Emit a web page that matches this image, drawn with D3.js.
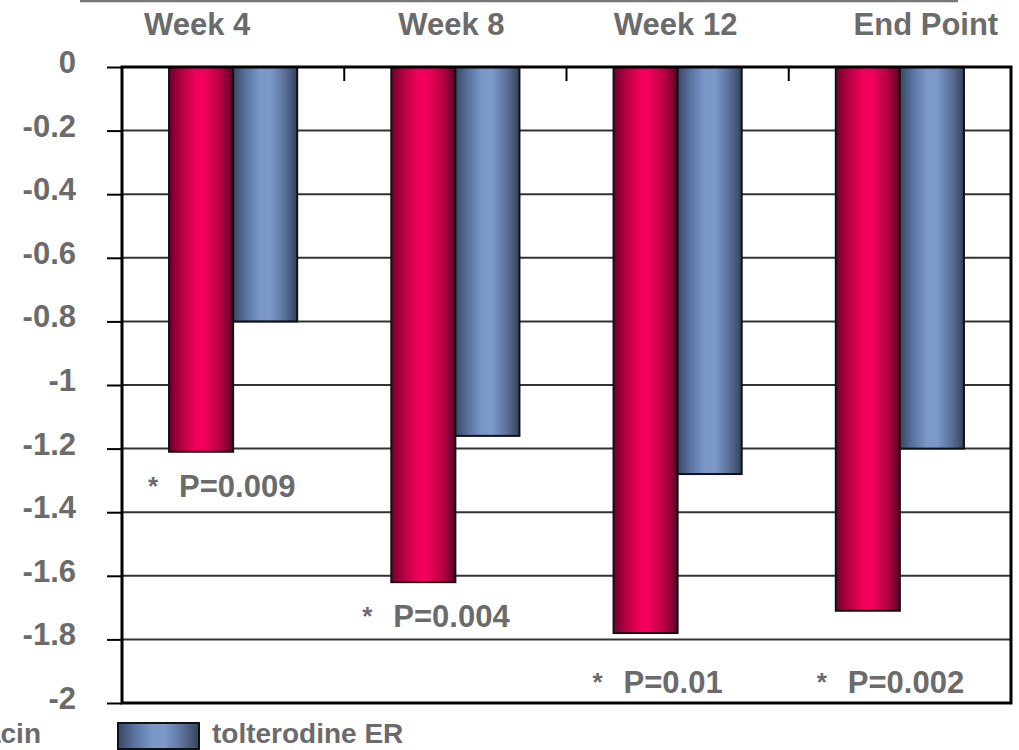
<!DOCTYPE html>
<html>
<head>
<meta charset="utf-8">
<script src="https://cdn.jsdelivr.net/npm/d3@7"></script>
<style>
  html, body { margin: 0; padding: 0; background: #fff; }
  svg { display: block; font-family: Arial, "Liberation Sans", Helvetica, sans-serif; font-weight: bold; }
</style>
</head>
<body>
<svg id="chart" width="1019" height="750"></svg>
<script>
// Change from baseline per visit
const categories = ["Week 4", "Week 8", "Week 12", "End Point"];
const seriesNames = ["solifenacin", "tolterodine ER"];
const solifenacin = [-1.21, -1.62, -1.78, -1.71];
const tolterodineER = [-0.80, -1.16, -1.28, -1.20];
const pValues = ["P=0.009", "P=0.004", "P=0.01", "P=0.002"];
// level (in axis units) on which each p-value note sits
const pLevels = [-1.352, -1.761, -1.969, -1.969];
const yTicks = [0, -0.2, -0.4, -0.6, -0.8, -1, -1.2, -1.4, -1.6, -1.8, -2];

const svg = d3.select("#chart");
const margin = { left: 122, top: 67, right: 8, bottom: 47 };
const W = 1019 - margin.left - margin.right;
const H = 750 - margin.top - margin.bottom;
const textGray = "#6b6b6b";

// gradients for the cylinder-like bars
const defs = svg.append("defs");
function grad(id, stops) {
  const g = defs.append("linearGradient").attr("id", id)
    .attr("x1", "0%").attr("x2", "100%").attr("y1", "0%").attr("y2", "0%");
  stops.forEach(([o, c]) => g.append("stop").attr("offset", o).attr("stop-color", c));
}
grad("gRed", [["0%", "#6e002b"], ["18%", "#b0003f"], ["40%", "#ee0058"], ["55%", "#f2005c"], ["80%", "#b80044"], ["100%", "#5c0026"]]);
grad("gBlue", [["0%", "#384763"], ["20%", "#5a73a0"], ["42%", "#7a97c8"], ["58%", "#7c99c9"], ["80%", "#5b709a"], ["100%", "#35425b"]]);
const fills = ["url(#gRed)", "url(#gBlue)"];

// thin rule across the top
svg.append("line").attr("x1", 80).attr("x2", 958).attr("y1", 1).attr("y2", 1)
  .attr("stroke", "#777").attr("stroke-width", 2.5);

const g = svg.append("g").attr("transform", `translate(${margin.left},${margin.top})`);

const x0 = d3.scaleBand().domain(categories).range([0, W]).padding(0);
const edge = x0.bandwidth() * 0.2117;
const x1 = d3.scaleBand().domain(seriesNames).range([edge, x0.bandwidth() - edge]).padding(0);
const y = d3.scaleLinear().domain([0, -2]).range([0, H]);

// horizontal gridlines
g.append("g").selectAll("line").data(yTicks).join("line")
  .attr("x1", 0).attr("x2", W)
  .attr("y1", d => y(d)).attr("y2", d => y(d))
  .attr("stroke", "#333").attr("stroke-width", 2);

// y axis
const yAxis = d3.axisLeft(y).tickValues(yTicks).tickSize(15).tickPadding(31)
  .tickFormat(d => String(+d.toFixed(1)));
const ya = g.append("g").call(yAxis);
ya.select(".domain").remove();
ya.selectAll(".tick line").attr("stroke", "#000").attr("stroke-width", 2);
ya.selectAll(".tick text").attr("fill", textGray).attr("font-size", 31)
  .attr("font-weight", "bold").attr("dy", "0.18em")
  .attr("font-family", "Arial, 'Liberation Sans', sans-serif");

// bars
const rows = categories.map((c, i) => ({ cat: c, vals: [solifenacin[i], tolterodineER[i]] }));
const groups = g.append("g").selectAll("g").data(rows).join("g")
  .attr("transform", d => `translate(${x0(d.cat)},0)`);
groups.selectAll("rect").data(d => d.vals.map((v, k) => ({ v, k })))
  .join("rect")
  .attr("x", d => x1(seriesNames[d.k]))
  .attr("width", x1.bandwidth())
  .attr("y", d => y(0))
  .attr("height", d => y(d.v) - y(0))
  .attr("fill", d => fills[d.k])
  .attr("stroke", "#111").attr("stroke-width", 2);

// plot frame
g.append("rect").attr("x", 0).attr("y", 0).attr("width", W).attr("height", H)
  .attr("fill", "none").attr("stroke", "#000").attr("stroke-width", 3);

// category separators hanging from the zero line
g.append("g").selectAll("line").data(categories.slice(1)).join("line")
  .attr("x1", d => x0(d)).attr("x2", d => x0(d))
  .attr("y1", 0).attr("y2", 14)
  .attr("stroke", "#000").attr("stroke-width", 2);

// category headings above the plot
const headShift = [-36, -4, -2, 26];
svg.append("g").selectAll("text").data(categories).join("text")
  .attr("x", (d, i) => margin.left + x0(d) + x0.bandwidth() / 2 + headShift[i])
  .attr("y", 35)
  .attr("text-anchor", "middle")
  .attr("fill", textGray).attr("font-size", 31)
  .text(d => d);

// significance notes, set just left of each solifenacin bar
const noteShift = [-21, -29, -21, -19];
const notes = g.append("g").selectAll("g").data(pValues).join("g")
  .attr("transform", (d, i) => `translate(${x0(categories[i]) + x1(seriesNames[0]) + noteShift[i]},${y(pLevels[i])})`);
notes.append("text").attr("x", 0).attr("y", -2)
  .attr("fill", textGray).attr("font-size", 26).text("*");
notes.append("text").attr("x", 31).attr("y", 0)
  .attr("fill", textGray).attr("font-size", 31).text(d => d);

// legend
const legend = svg.append("g");
legend.append("text").attr("x", 41).attr("y", 743).attr("text-anchor", "end")
  .attr("fill", textGray).attr("font-size", 28).text(seriesNames[0]);
legend.append("rect").attr("x", 118).attr("y", 723).attr("width", 81).attr("height", 26)
  .attr("fill", fills[1]).attr("stroke", "#111").attr("stroke-width", 2);
legend.append("text").attr("x", 212).attr("y", 743)
  .attr("fill", textGray).attr("font-size", 28).text(seriesNames[1]);
</script>
</body>
</html>
